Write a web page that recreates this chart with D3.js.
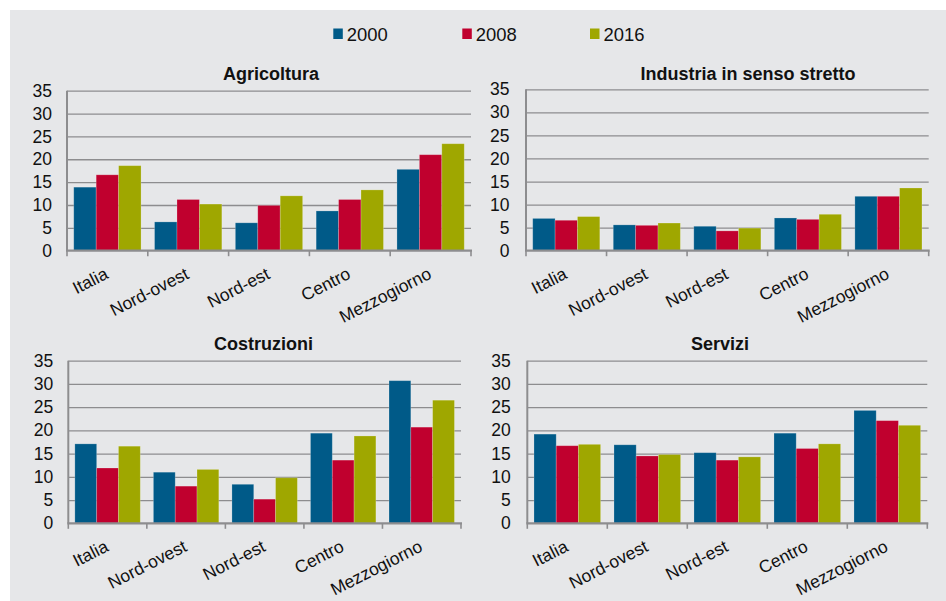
<!DOCTYPE html>
<html>
<head>
<meta charset="utf-8">
<script src="https://cdn.jsdelivr.net/npm/d3@7"></script>
<style>
  html, body { margin: 0; padding: 0; background: #ffffff; }
  svg { display: block; font-family: "Liberation Sans", Arial, sans-serif; }
</style>
</head>
<body>
<svg id="chart" width="946" height="601"></svg>
<script>
// Categories, series and ticks
const categories = ["Italia", "Nord-ovest", "Nord-est", "Centro", "Mezzogiorno"];
const years = ["2000", "2008", "2016"];
const yTicks = [0, 5, 10, 15, 20, 25, 30, 35];

const agricoltura2000 = [13.9, 6.3, 6.1, 8.7, 17.8];
const agricoltura2008 = [16.6, 11.2, 9.9, 11.2, 21.0];
const agricoltura2016 = [18.6, 10.2, 12.0, 13.3, 23.4];

const industria2000 = [7.0, 5.6, 5.3, 7.1, 11.8];
const industria2008 = [6.6, 5.5, 4.3, 6.8, 11.8];
const industria2016 = [7.4, 6.0, 4.9, 7.9, 13.6];

const costruzioni2000 = [17.1, 11.0, 8.4, 19.4, 30.7];
const costruzioni2008 = [11.9, 8.0, 5.2, 13.6, 20.7];
const costruzioni2016 = [16.6, 11.6, 9.8, 18.8, 26.5];

const servizi2000 = [19.2, 16.9, 15.2, 19.4, 24.3];
const servizi2008 = [16.7, 14.5, 13.6, 16.1, 22.1];
const servizi2016 = [17.0, 14.8, 14.3, 17.1, 21.1];

const colors = ["#005a88", "#c0002e", "#9fa700"];

// Panel layout: plot box and title placement
const panels = [
  { title: "Agricoltura", series: [agricoltura2000, agricoltura2008, agricoltura2016],
    left: 67, right: 471, top: 90.7, bottom: 250.7, titleX: 271, titleY: 80 },
  { title: "Industria in senso stretto", series: [industria2000, industria2008, industria2016],
    left: 526, right: 928.7, top: 89.3, bottom: 250.7, titleX: 748, titleY: 80 },
  { title: "Costruzioni", series: [costruzioni2000, costruzioni2008, costruzioni2016],
    left: 68.3, right: 461, top: 360.7, bottom: 523.3, titleX: 263.5, titleY: 350 },
  { title: "Servizi", series: [servizi2000, servizi2008, servizi2016],
    left: 527.3, right: 927.3, top: 360.7, bottom: 523.3, titleX: 720, titleY: 350 }
];

const svg = d3.select("#chart");

// Panel background
svg.append("rect")
  .attr("x", 10).attr("y", 10)
  .attr("width", 936).attr("height", 591)
  .attr("fill", "#e6e7e9");

// Legend
const legendX = [333.3, 462.3, 590];
const legend = svg.append("g");
years.forEach((yr, i) => {
  legend.append("rect")
    .attr("x", legendX[i]).attr("y", 28.5)
    .attr("width", 9.5).attr("height", 10.5)
    .attr("fill", colors[i]);
  legend.append("text")
    .attr("x", legendX[i] + 13.5).attr("y", 41)
    .attr("font-size", 18.5)
    .attr("fill", "#111")
    .attr("textLength", 41).attr("lengthAdjust", "spacingAndGlyphs")
    .text(yr);
});

const gridColor = "#8d8d8f";

panels.forEach(p => {
  const g = svg.append("g");

  const x0 = d3.scaleBand()
    .domain(categories)
    .range([p.left, p.right])
    .paddingInner(0.167)
    .paddingOuter(0.0835);
  const x1 = d3.scaleBand()
    .domain(years)
    .range([0, x0.bandwidth()]);
  const y = d3.scaleLinear()
    .domain([0, 35])
    .range([p.bottom, p.top]);

  // Gridlines
  g.append("g")
    .attr("transform", `translate(${p.left},0)`)
    .call(d3.axisRight(y).tickValues(yTicks.filter(t => t > 0)).tickSize(p.right - p.left).tickFormat(""))
    .call(s => s.select(".domain").remove())
    .call(s => s.selectAll("line").attr("stroke", gridColor).attr("stroke-width", 1.3));

  // Y axis labels
  g.append("g")
    .attr("transform", `translate(${p.left},0)`)
    .call(d3.axisLeft(y).tickValues(yTicks).tickSize(0).tickPadding(p.left > 500 ? 16.5 : 15))
    .call(s => s.select(".domain").remove())
    .call(s => s.selectAll("text")
      .attr("font-size", 17.5)
      .attr("fill", "#111")
      .attr("font-family", "'Liberation Sans', Arial, sans-serif"));

  // Bars
  categories.forEach((c, ci) => {
    years.forEach((yr, si) => {
      const v = p.series[si][ci];
      g.append("rect")
        .attr("x", x0(c) + x1(yr))
        .attr("y", y(v))
        .attr("width", x1.bandwidth())
        .attr("height", y(0) - y(v))
        .attr("fill", colors[si])
        .attr("stroke", "rgba(255,255,255,0.25)")
        .attr("stroke-width", 0.8);
    });
  });

  // Y axis line
  g.append("line")
    .attr("x1", p.left).attr("x2", p.left)
    .attr("y1", p.top).attr("y2", p.bottom)
    .attr("stroke", gridColor).attr("stroke-width", 2);

  // X axis line with ticks at category boundaries
  const step = x0.step();
  const bounds = d3.range(categories.length + 1).map(i => p.left + i * step);
  g.append("line")
    .attr("x1", p.left - 1).attr("x2", p.right + 1)
    .attr("y1", p.bottom).attr("y2", p.bottom)
    .attr("stroke", gridColor).attr("stroke-width", 2.2);
  g.selectAll("line.xtick")
    .data(bounds)
    .join("line")
    .attr("class", "xtick")
    .attr("x1", d => d).attr("x2", d => d)
    .attr("y1", p.bottom).attr("y2", p.bottom + 5.5)
    .attr("stroke", gridColor).attr("stroke-width", 1.6);

  // Category labels
  g.selectAll("text.cat")
    .data(categories)
    .join("text")
    .attr("class", "cat")
    .attr("transform", d => `translate(${x0(d) + x0.bandwidth() / 2 + 2},${p.bottom + 27}) rotate(-27)`)
    .attr("text-anchor", "end")
    .attr("font-size", 17.5)
    .attr("fill", "#111")
    .text(d => d);

  // Title
  g.append("text")
    .attr("x", p.titleX).attr("y", p.titleY)
    .attr("text-anchor", "middle")
    .attr("font-size", 18)
    .attr("font-weight", "bold")
    .attr("fill", "#111")
    .text(p.title);
});
</script>
</body>
</html>
